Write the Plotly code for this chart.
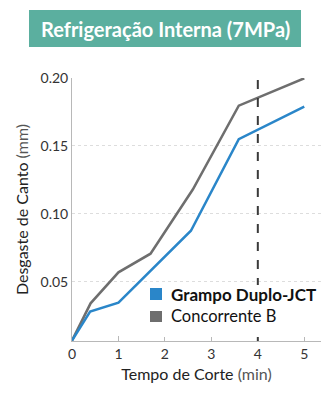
import plotly.graph_objects as go

title_text = "Refrigeração Interna (7MPa)"
series_names = ["Grampo Duplo-JCT", "Concorrente B"]
x_jct = [0, 0.39, 1.0, 1.46, 2.56, 3.59, 5.0]
y_jct = [0.0069, 0.0282, 0.0348, 0.0502, 0.0877, 0.155, 0.179]
x_b = [0, 0.40, 1.0, 1.69, 2.6, 3.59, 5.0]
y_b = [0.0069, 0.0343, 0.0571, 0.0708, 0.118, 0.1797, 0.1998]
x_ticks = [0, 1, 2, 3, 4, 5]
y_ticks = [0.05, 0.10, 0.15, 0.20]
ref_x = 4

BLUE = "#2A86C9"
GRAY = "#6E6E6E"
FONT = "Lato"

fig = go.Figure()
fig.add_trace(go.Scatter(x=x_b, y=y_b, mode="lines", line=dict(color=GRAY, width=2.5),
                         name=series_names[1], showlegend=False, hoverinfo="skip"))
fig.add_trace(go.Scatter(x=x_jct, y=y_jct, mode="lines", line=dict(color=BLUE, width=2.5),
                         name=series_names[0], showlegend=False, hoverinfo="skip"))

fig.add_shape(type="line", xref="x", yref="paper", x0=ref_x, x1=ref_x, y0=0, y1=1.025,
              line=dict(color="#3a3a3a", width=2, dash="dash"))

# title box
fig.add_shape(type="rect", xref="paper", yref="paper", x0=-0.1727, x1=0.9197, y0=1.1179, y1=1.2586,
              fillcolor="#5BAF9F", line=dict(width=0), layer="above")
fig.add_annotation(text=title_text, xref="paper", yref="paper", x=0.3735, y=1.188,
                   showarrow=False, font=dict(family=FONT, size=20, color="white", weight="bold"),
                   xanchor="center", yanchor="middle")

# legend background
fig.add_shape(type="rect", xref="paper", yref="paper", x0=0.301, x1=1.03, y0=0.015, y1=0.213,
              fillcolor="white", line=dict(width=0), layer="above")

# legend (manual, squares + text)
legend_rows = [
    (series_names[0], BLUE, 0.1559, 0.2015, 0.1787, "bold", 17),
    (series_names[1], GRAY, 0.0722, 0.1141, 0.0932, "normal", 16.5),
]
for name, col, y0, y1, yc, wt, sz in legend_rows:
    fig.add_shape(type="rect", xref="paper", yref="paper", x0=0.3133, x1=0.3614, y0=y0, y1=y1,
                  fillcolor=col, line=dict(width=0), layer="above")
    fig.add_annotation(text=name, xref="paper", yref="paper", x=0.3896, y=yc, showarrow=False,
                       xanchor="left", yanchor="middle",
                       font=dict(family=FONT, size=sz, color="#111111", weight=wt))

fig.update_layout(
    width=334, height=394,
    margin=dict(l=72, r=13, t=78, b=53),
    paper_bgcolor="white", plot_bgcolor="white",
    font=dict(family=FONT, color="#333333"),
    showlegend=False,
    xaxis=dict(range=[0, 5.36], tickvals=x_ticks, showgrid=False, showline=True,
               linecolor="#b8b8b8", linewidth=1, ticks="inside", ticklen=5, tickcolor="#b8b8b8",
               tickfont=dict(size=14, color="#333333"), zeroline=False,
               title=dict(text="Tempo de Corte <span style='color:#555'>(min)</span>",
                          font=dict(size=16, color="#222222"), standoff=8)),
    yaxis=dict(range=[0.0066, 0.2], tickvals=y_ticks, tickformat=".2f", showgrid=True,
               gridcolor="#dddddd", griddash="dot", gridwidth=1, showline=True,
               linecolor="#b8b8b8", linewidth=1, ticks="", zeroline=False,
               tickfont=dict(size=14, color="#333333"),
               title=dict(text="Desgaste de Canto <span style='color:#555'>(mm)</span>",
                          font=dict(size=16, color="#222222"), standoff=7)),
)

fig.write_html("out.html")
